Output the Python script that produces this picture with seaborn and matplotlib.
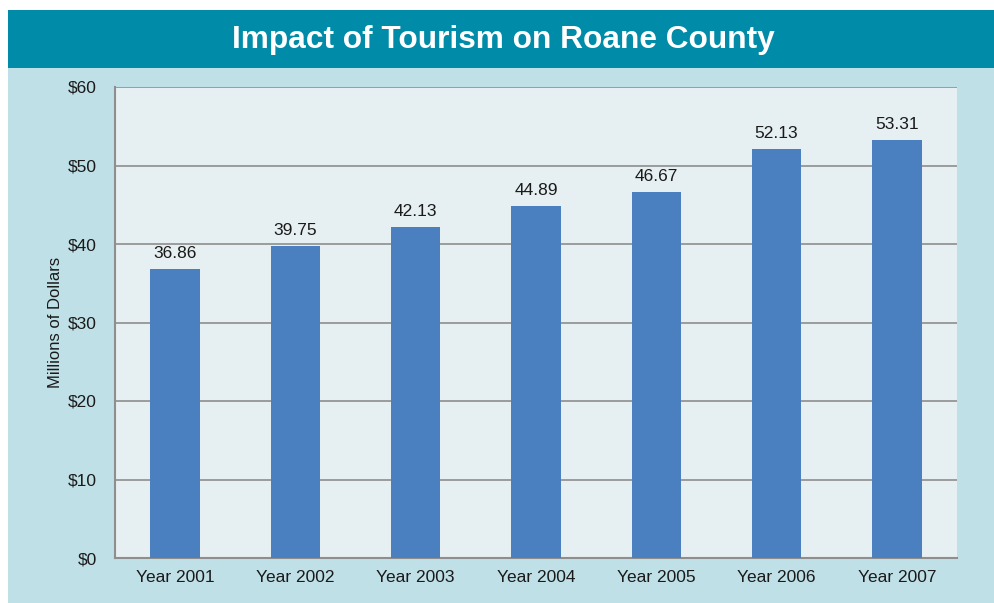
import pandas as pd
import seaborn as sns
import matplotlib.pyplot as plt
from matplotlib.patches import Rectangle

# chart values
years = ['Year 2001', 'Year 2002', 'Year 2003', 'Year 2004', 'Year 2005', 'Year 2006', 'Year 2007']
impact = [36.86, 39.75, 42.13, 44.89, 46.67, 52.13, 53.31]
y_ticks = [0, 10, 20, 30, 40, 50, 60]
y_tick_labels = ['$0', '$10', '$20', '$30', '$40', '$50', '$60']

df = pd.DataFrame({'year': years, 'impact': impact})

sns.set_style('white')
plt.rcParams['font.family'] = ['Liberation Sans', 'DejaVu Sans']

fig = plt.figure(figsize=(9.95, 6.03), dpi=100)
fig.patch.set_facecolor('white')

# light blue panel and teal banner (behind the axes)
fig.patches.append(Rectangle((8 / 995, 0), 1, (603 - 68) / 603, transform=fig.transFigure,
                             facecolor='#c0e0e7', edgecolor='none', zorder=-2))
fig.patches.append(Rectangle((8 / 995, (603 - 68) / 603), 1, 58 / 603, transform=fig.transFigure,
                             facecolor='#008ba8', edgecolor='none', zorder=-2))
fig.text(0.5055, (603 - 40) / 603, 'Impact of Tourism on Roane County', color='white',
         fontsize=22.8, fontweight='bold', ha='center', va='center')

ax = fig.add_axes([115 / 995, 45 / 603, (957 - 115) / 995, (558 - 87) / 603])
ax.set_facecolor('#e6eff1')

sns.barplot(data=df, x='year', y='impact', color='#4a7fc0', saturation=1,
            width=0.41, linewidth=0, ax=ax, zorder=3)

for i, v in enumerate(impact):
    ax.text(i, v + 1.0, f'{v:.2f}', ha='center', va='bottom', fontsize=12.5, color='#1a1a1a')

ax.set_ylim(0, 60)
ax.set_xlim(-0.5, len(years) - 0.5)
ax.set_yticks(y_ticks)
ax.set_yticklabels(y_tick_labels)
ax.yaxis.grid(True, color='#8e8e8e', linewidth=1.2, zorder=1)
ax.set_axisbelow(True)

for side in ['top', 'right']:
    ax.spines[side].set_visible(False)
for side in ['left', 'bottom']:
    ax.spines[side].set_color('#8e8e8e')
    ax.spines[side].set_linewidth(1.5)

ax.tick_params(axis='y', length=5, color='#8e8e8e', labelsize=12.5, labelcolor='#1a1a1a', pad=8)
ax.tick_params(axis='x', length=0, labelsize=12.5, labelcolor='#1a1a1a', pad=9)
ax.set_xlabel('')
ax.set_ylabel('Millions of Dollars', fontsize=12, color='#1a1a1a')
ax.yaxis.set_label_coords(-52 / 842, 0.5)

fig.savefig('out.png', dpi=100, facecolor=fig.get_facecolor())
